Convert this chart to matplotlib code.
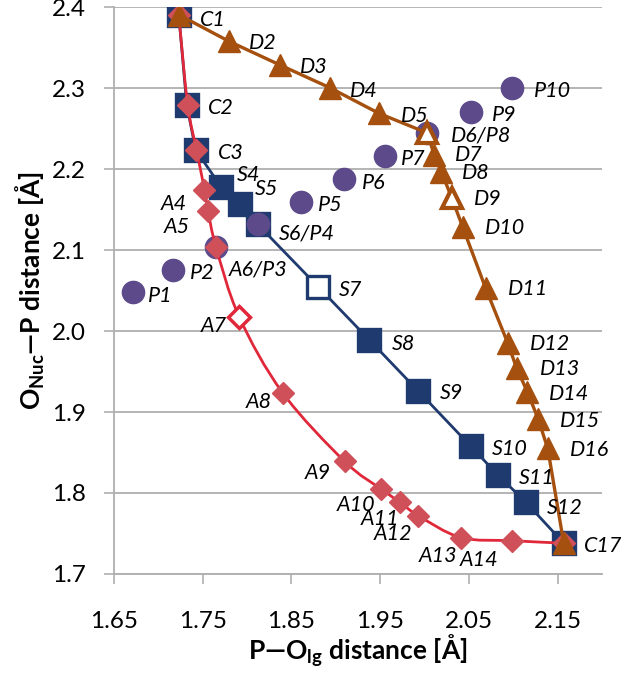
import numpy as np
import matplotlib
matplotlib.use("Agg")
import matplotlib.pyplot as plt
from matplotlib.path import Path
from matplotlib.patches import PathPatch

plt.rcParams['font.family'] = ['Lato', 'DejaVu Sans']
plt.rcParams['mathtext.fontset'] = 'custom'
plt.rcParams['mathtext.bf'] = 'Lato:bold'
plt.rcParams['mathtext.rm'] = 'Lato:bold'

#%% data
# S path (navy squares)
s_names = ["C1", "C2", "C3", "S4", "S5", "S6/P4", "S7", "S8", "S9", "S10", "S11", "S12", "C17"]
s_x = [1.723, 1.732, 1.742, 1.771, 1.792, 1.812, 1.880, 1.938, 1.993, 2.052, 2.083, 2.114, 2.157]
s_y = [2.391, 2.280, 2.224, 2.178, 2.157, 2.132, 2.055, 1.989, 1.926, 1.858, 1.822, 1.789, 1.738]

# A path (red diamonds, smoothed line)
a_names = ["C1", "C2", "C3", "A4", "A5", "A6/P3", "A7", "A8", "A9", "A10", "A11", "A12", "A13", "A14", "C17"]
a_x = [1.723, 1.733, 1.743, 1.752, 1.756, 1.765, 1.791, 1.840, 1.910, 1.951, 1.972, 1.993, 2.041, 2.099, 2.157]
a_y = [2.391, 2.280, 2.224, 2.175, 2.149, 2.104, 2.018, 1.924, 1.839, 1.805, 1.789, 1.772, 1.745, 1.741, 1.738]

# D path (brown triangles)
d_names = ["C1", "D2", "D3", "D4", "D5", "D6/P8", "D7", "D8", "D9", "D10", "D11",
           "D12", "D13", "D14", "D15", "D16", "C17"]
d_x = [1.723, 1.780, 1.837, 1.893, 1.949, 2.003, 2.011, 2.019, 2.031, 2.043, 2.069,
       2.094, 2.104, 2.116, 2.128, 2.139, 2.157]
d_y = [2.391, 2.358, 2.329, 2.301, 2.269, 2.245, 2.218, 2.197, 2.164, 2.129, 2.053,
       1.985, 1.954, 1.925, 1.892, 1.855, 1.738]

# P points (purple circles)
p_names = ["P1", "P2", "A6/P3", "S6/P4", "P5", "P6", "P7", "D6/P8", "P9", "P10"]
p_x = [1.671, 1.717, 1.765, 1.812, 1.861, 1.909, 1.956, 2.003, 2.052, 2.099]
p_y = [2.048, 2.076, 2.104, 2.132, 2.159, 2.188, 2.216, 2.245, 2.271, 2.300]

# open (hollow) markers
s_open = ["S7"]
a_open = ["A7"]
d_open = ["D6/P8", "D9"]

xticks = [1.65, 1.75, 1.85, 1.95, 2.05, 2.15]
yticks = [1.7, 1.8, 1.9, 2.0, 2.1, 2.2, 2.3, 2.4]

# label offsets in pixels (right, up)
offs = {"C1": (34, -5), "C2": (34, -3), "C3": (35, -3), "C17": (39, -3),
        "S4": (27, 12), "S5": (27, 15), "S6/P4": (49, -9), "S7": (33, -3), "S8": (34, -4),
        "S9": (33, -2), "S10": (39, -3), "S11": (39, -3), "S12": (39, -6),
        "A4": (-31, -14), "A5": (-31, -16), "A6/P3": (42, -22), "A7": (-25, -9),
        "A8": (-24, -9), "A9": (-27, -12), "A10": (-25, -16), "A11": (-20, -17),
        "A12": (-25, -18), "A13": (-23, -18), "A14": (-33, -19),
        "D2": (34, -2), "D3": (34, -2), "D4": (34, -3), "D5": (36, -3), "D6/P8": (54, -3),
        "D7": (35, 0), "D8": (35, -1), "D9": (36, -1), "D10": (42, -1), "D11": (42, -1),
        "D12": (42, -1), "D13": (43, -1), "D14": (42, -2), "D15": (42, -2), "D16": (42, -2),
        "P1": (28, -4), "P2": (29, -3), "P5": (29, -3), "P6": (30, -4), "P7": (28, -3),
        "P9": (34, -3), "P10": (40, -3)}

navy = "#1F3A6E"
red_fill = "#D0505A"
red_line = "#E0283A"
brown = "#A5500F"
purple = "#5C4A8A"
grid = "#AFAFAF"

#%%
def smooth_path(xs, ys):
    # catmull-rom -> cubic bezier, like excel smoothed line
    P = np.column_stack([xs, ys])
    n = len(P)
    verts = [P[0]]
    codes = [Path.MOVETO]
    for i in range(n - 1):
        p0 = P[i - 1] if i > 0 else P[i]
        p1, p2 = P[i], P[i + 1]
        p3 = P[i + 2] if i + 2 < n else P[i + 1]
        verts += [p1 + (p2 - p0) / 6, p2 - (p3 - p1) / 6, p2]
        codes += [Path.CURVE4] * 3
    return Path(verts, codes)

fig = plt.figure(figsize=(6.25, 6.8), dpi=100)
ax = fig.add_axes([0.1824, 0.156, 0.7806, 0.833])

# S path
ax.plot(s_x, s_y, '-', color=navy, lw=2, zorder=2)
for nm, x, y in zip(s_names, s_x, s_y):
    fc = "white" if nm in s_open else navy
    ax.plot(x, y, 's', ms=15.5, mfc=fc, mec=navy, mew=2.4, zorder=2)

# P points
for nm, x, y in zip(p_names, p_x, p_y):
    ax.plot(x, y, 'o', ms=16, color=purple, zorder=3)

# A path
ax.add_patch(PathPatch(smooth_path(a_x, a_y), fill=False, ec=red_line, lw=2, zorder=4))
for nm, x, y in zip(a_names, a_x, a_y):
    if nm in a_open:
        ax.plot(x, y, 'D', ms=11, mfc="white", mec=red_line, mew=2.5, zorder=4)
    else:
        ax.plot(x, y, 'D', ms=11.5, mfc=red_fill, mec=red_fill, mew=1, zorder=4)

# D path
ax.plot(d_x, d_y, '-', color=brown, lw=2.4, zorder=5)
for nm, x, y in zip(d_names, d_x, d_y):
    if nm in d_open:
        ax.plot(x, y, '^', ms=14, mfc="white", mec=brown, mew=3, zorder=5)
    else:
        ax.plot(x, y, '^', ms=15.5, color=brown, zorder=5)

# labels
done = set()
for names, xs, ys in [(s_names, s_x, s_y), (a_names, a_x, a_y), (d_names, d_x, d_y), (p_names, p_x, p_y)]:
    for nm, x, y in zip(names, xs, ys):
        if nm in done:
            continue
        done.add(nm)
        dx, dy = offs[nm]
        ax.annotate(nm, (x, y), xytext=(dx, dy), textcoords='offset pixels',
                    ha='center', va='center', fontsize=15.5, style='italic',
                    color="black", zorder=6, annotation_clip=False)

ax.set_xlim(1.65, 2.2)
ax.set_ylim(1.7, 2.4)
ax.set_xticks(xticks)
ax.set_xticklabels(["%.2f" % v for v in xticks])
ax.set_yticks(yticks)
ax.set_yticklabels(["%.1f" % v for v in yticks])
ax.tick_params(axis='both', labelsize=17.5, color=grid, length=7, width=1.2)
ax.tick_params(axis='x', pad=20)
ax.tick_params(axis='y', pad=13)
ax.grid(axis='y', color=grid, lw=1.3)
ax.set_axisbelow(True)
for sp in ["top", "right"]:
    ax.spines[sp].set_visible(False)
for sp in ["left", "bottom"]:
    ax.spines[sp].set_color(grid)
    ax.spines[sp].set_linewidth(1.3)

ax.set_xlabel(r"P—O$_{\mathbf{lg}}$ distance [Å]", fontsize=19, fontweight='bold', labelpad=0)
ax.set_ylabel(r"O$_{\mathbf{Nuc}}$—P distance [Å]", fontsize=19, fontweight='bold', labelpad=4)

fig.savefig("out.png", dpi=100)
